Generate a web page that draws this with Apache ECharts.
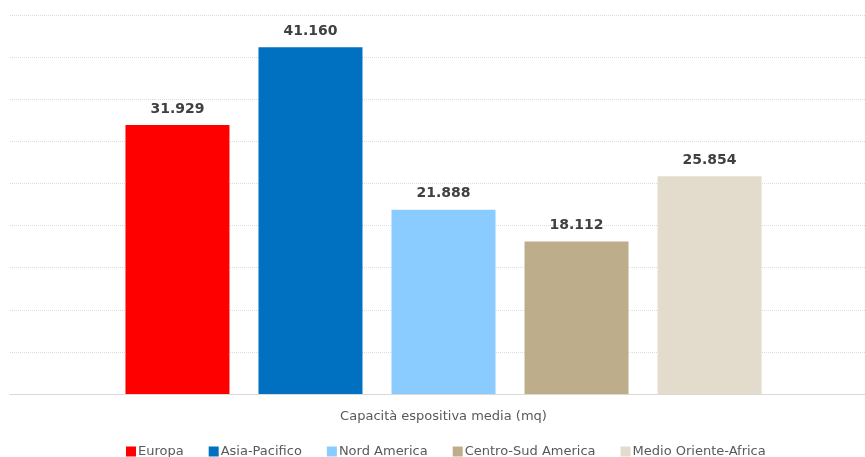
<!DOCTYPE html>
<html><head><meta charset="utf-8">
<script src="https://cdn.jsdelivr.net/npm/echarts@6/dist/echarts.min.js"></script>
<style>html,body{margin:0;padding:0;background:#fff}#c{width:865px;height:457px}</style>
</head><body><div id="c"></div>
<script>
const category = ['Capacità espositiva media (mq)'];
const seriesNames = ['Europa', 'Asia-Pacifico', 'Nord America', 'Centro-Sud America', 'Medio Oriente-Africa'];
const seriesValues = [31929, 41160, 21888, 18112, 25854];
const colors = ['#ff0000', '#0070c0', '#8accff', '#bead8a', '#e3dccc'];

const fmt = v => String(v).replace(/\B(?=(\d{3})+(?!\d))/g, '.');
const chart = echarts.init(document.getElementById('c'), null, {renderer: 'canvas'});
chart.setOption({
  animation: false,
  textStyle: {fontFamily: 'DejaVu Sans'},
  grid: [
    {left: 10, right: 0, top: 15, height: 379, containLabel: false},
    {left: 22, right: 0, top: 15, height: 379, containLabel: false}
  ],
  legend: {
    left: 121, top: 440,
    itemWidth: 10, itemHeight: 10, itemGap: 25,
    icon: 'rect',
    textStyle: {fontFamily: 'DejaVu Sans', fontSize: 13, color: '#595959', padding: [0, 0, 0, -3]},
    data: seriesNames
  },
  xAxis: [
    {
      gridIndex: 0, type: 'category', data: [''],
      axisLine: {lineStyle: {color: '#d9d9d9', width: 1}},
      axisTick: {show: false}, axisLabel: {show: false}
    },
    {
      gridIndex: 1, type: 'category', data: category,
      axisLine: {show: false},
      axisTick: {show: false},
      axisLabel: {fontFamily: 'DejaVu Sans', fontSize: 13, color: '#595959', margin: 16}
    }
  ],
  yAxis: [
    {
      gridIndex: 0, type: 'value', min: 0, max: 45000, interval: 5000,
      axisLabel: {show: false}, axisLine: {show: false}, axisTick: {show: false},
      splitLine: {lineStyle: {color: '#dcdcdc', type: [1, 1], width: 1}}
    },
    {
      gridIndex: 1, type: 'value', min: 0, max: 45000, interval: 5000,
      axisLabel: {show: false}, axisLine: {show: false}, axisTick: {show: false},
      splitLine: {show: false}
    }
  ],
  series: seriesNames.map((n, i) => ({
    name: n, type: 'bar', data: [seriesValues[i]],
    xAxisIndex: 1, yAxisIndex: 1,
    barWidth: 104, barGap: '27.9%',
    itemStyle: {color: colors[i]},
    label: {
      show: true, position: 'top', distance: 9,
      formatter: p => fmt(p.value),
      fontFamily: 'DejaVu Sans', fontSize: 14, fontWeight: 'bold', color: '#404040'
    }
  }))
});
</script></body></html>
